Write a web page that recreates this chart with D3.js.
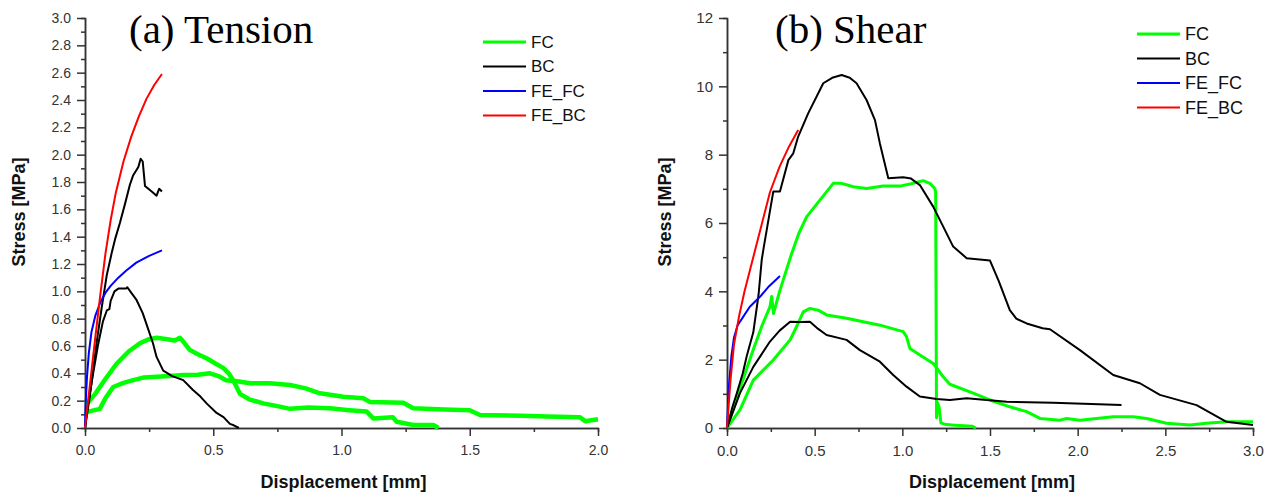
<!DOCTYPE html>
<html>
<head>
<meta charset="utf-8">
<script src="https://cdn.jsdelivr.net/npm/d3@7"></script>
<style>
  body { margin: 0; background: #fff; }
  text { font-family: "Liberation Sans", Arial, sans-serif; }
</style>
</head>
<body>
<div id="chart"></div>
<script>
// ---- data: [displacement mm, stress MPa] ----
var seriesNames = ['FC', 'BC', 'FE_FC', 'FE_BC'];

// (a) tension
var tensionFC_1 = [[0,0.18],[0.013,0.19],[0.04,0.25],[0.08,0.36],[0.123,0.47],[0.17,0.56],[0.214,0.62],[0.25,0.65],[0.28,0.66],[0.32,0.65],[0.35,0.64],[0.37,0.66],[0.38,0.64],[0.409,0.57],[0.44,0.54],[0.474,0.51],[0.51,0.47],[0.539,0.44],[0.56,0.40],[0.578,0.35],[0.604,0.25],[0.64,0.21],[0.695,0.18],[0.75,0.16],[0.80,0.14],[0.87,0.15],[0.955,0.144],[1.03,0.13],[1.098,0.12],[1.124,0.07],[1.20,0.078],[1.215,0.046],[1.28,0.022],[1.358,0.022],[1.378,0]];
var tensionFC_2 = [[0,0.1],[0.013,0.12],[0.058,0.14],[0.08,0.22],[0.11,0.30],[0.15,0.33],[0.188,0.35],[0.23,0.37],[0.28,0.375],[0.33,0.38],[0.383,0.388],[0.44,0.39],[0.487,0.40],[0.52,0.38],[0.55,0.35],[0.60,0.34],[0.643,0.327],[0.72,0.327],[0.80,0.315],[0.86,0.29],[0.916,0.254],[1.007,0.229],[1.085,0.217],[1.111,0.19],[1.241,0.185],[1.28,0.144],[1.40,0.135],[1.50,0.13],[1.54,0.095],[1.70,0.09],[1.80,0.085],[1.93,0.078],[1.95,0.05],[2.0,0.064]];
var tensionBC_1 = [[0,0],[0.02,0.25],[0.045,0.62],[0.065,0.88],[0.085,1.12],[0.104,1.28],[0.117,1.38],[0.136,1.50],[0.156,1.64],[0.175,1.78],[0.188,1.85],[0.208,1.91],[0.217,1.97],[0.225,1.95],[0.234,1.77],[0.26,1.73],[0.279,1.70],[0.289,1.75],[0.30,1.73]];
var tensionBC_2 = [[0,0],[0.01,0.15],[0.03,0.38],[0.05,0.6],[0.07,0.78],[0.085,0.86],[0.095,0.87],[0.10,0.93],[0.115,1.0],[0.13,1.02],[0.16,1.02],[0.165,1.03],[0.18,0.99],[0.20,0.94],[0.225,0.84],[0.247,0.72],[0.265,0.62],[0.279,0.52],[0.305,0.42],[0.34,0.38],[0.383,0.35],[0.42,0.28],[0.45,0.23],[0.474,0.18],[0.513,0.11],[0.54,0.08],[0.565,0.03],[0.58,0.02],[0.60,0]];
var tensionFE_FC = [[0,0],[0.003,0.2],[0.008,0.38],[0.015,0.55],[0.025,0.70],[0.04,0.82],[0.06,0.92],[0.08,0.99],[0.10,1.04],[0.13,1.10],[0.16,1.15],[0.20,1.21],[0.25,1.26],[0.30,1.30]];
var tensionFE_BC = [[0,0],[0.02,0.33],[0.04,0.66],[0.06,0.98],[0.08,1.28],[0.10,1.52],[0.12,1.72],[0.15,1.95],[0.18,2.13],[0.21,2.28],[0.24,2.41],[0.27,2.51],[0.30,2.59]];

// (b) shear
var shearFC_1 = [[0,0],[0.05,0.8],[0.10,1.55],[0.15,2.3],[0.20,3.0],[0.245,3.55],[0.255,3.85],[0.265,3.35],[0.30,4.0],[0.369,5.11],[0.41,5.7],[0.454,6.18],[0.53,6.67],[0.606,7.16],[0.654,7.16],[0.72,7.06],[0.796,7.01],[0.891,7.08],[0.986,7.08],[1.05,7.15],[1.119,7.24],[1.16,7.15],[1.186,7.0],[1.19,6.9],[1.195,0.3],[1.20,0.75],[1.21,0.6],[1.22,0.15],[1.25,0.1],[1.3,0.08],[1.4,0.05],[1.42,0]];
var shearFC_2 = [[0,0],[0.074,0.53],[0.15,1.40],[0.264,1.99],[0.36,2.58],[0.40,3.0],[0.435,3.40],[0.473,3.50],[0.52,3.45],[0.568,3.31],[0.682,3.21],[0.777,3.11],[0.872,3.01],[1.005,2.82],[1.024,2.67],[1.043,2.33],[1.10,2.14],[1.176,1.89],[1.233,1.50],[1.271,1.28],[1.404,1.02],[1.50,0.82],[1.613,0.62],[1.709,0.48],[1.785,0.28],[1.899,0.23],[1.937,0.28],[2.013,0.23],[2.203,0.33],[2.317,0.33],[2.393,0.28],[2.507,0.14],[2.64,0.09],[2.735,0.14],[2.849,0.18],[3.0,0.18]];
var shearBC_1 = [[0,0],[0.03,0.6],[0.055,1.0],[0.09,1.6],[0.112,2.09],[0.15,2.8],[0.18,3.9],[0.198,4.92],[0.21,5.3],[0.24,6.2],[0.264,6.92],[0.302,6.92],[0.35,7.84],[0.378,8.04],[0.406,8.53],[0.463,9.21],[0.549,10.09],[0.60,10.25],[0.654,10.33],[0.70,10.25],[0.739,10.09],[0.796,9.6],[0.844,9.01],[0.872,8.33],[0.92,7.31],[1.005,7.34],[1.05,7.3],[1.10,7.11],[1.176,6.48],[1.214,6.09],[1.29,5.31],[1.367,4.97],[1.50,4.90],[1.55,4.3],[1.613,3.45],[1.65,3.2],[1.709,3.06],[1.80,2.92],[1.842,2.89],[2.013,2.28],[2.203,1.55],[2.355,1.31],[2.469,0.97],[2.678,0.67],[2.849,0.18],[3.0,0.09]];
var shearBC_2 = [[0,0],[0.074,1.02],[0.15,1.79],[0.245,2.53],[0.30,2.85],[0.36,3.11],[0.42,3.10],[0.473,3.11],[0.52,2.9],[0.568,2.72],[0.682,2.58],[0.758,2.28],[0.872,1.94],[0.948,1.55],[1.024,1.21],[1.10,0.92],[1.195,0.85],[1.271,0.82],[1.367,0.87],[1.595,0.77],[1.86,0.74],[2.25,0.67]];
var shearFE_FC = [[0,0],[0.005,0.6],[0.012,1.3],[0.025,2.1],[0.04,2.65],[0.06,3.0],[0.093,3.26],[0.13,3.55],[0.188,3.84],[0.24,4.15],[0.302,4.45]];
var shearFE_BC = [[0,0],[0.02,1.4],[0.04,2.45],[0.07,3.3],[0.10,4.0],[0.13,4.6],[0.16,5.2],[0.20,6.0],[0.245,6.9],[0.30,7.65],[0.35,8.2],[0.406,8.72]];

// ticks
var tensionYTicks = [0,0.2,0.4,0.6,0.8,1.0,1.2,1.4,1.6,1.8,2.0,2.2,2.4,2.6,2.8,3.0];
var tensionYMinor = d3.range(0.1, 3.0, 0.2);
var tensionXTicks = [0,0.5,1.0,1.5,2.0];
var tensionXMinor = [0.25,0.75,1.25,1.75];
var shearYTicks = [0,2,4,6,8,10,12];
var shearYMinor = [1,3,5,7,9,11];
var shearXTicks = [0,0.5,1.0,1.5,2.0,2.5,3.0];
var shearXMinor = [0.25,0.75,1.25,1.75,2.25,2.75];

var color = d3.scaleOrdinal()
  .domain(seriesNames)
  .range(['#00ff00', '#000000', '#0000ff', '#ff0000']);

var svg = d3.select("#chart")
  .append("svg")
    .attr("width", 1283)
    .attr("height", 498);

var draw_panel = function(p) {
  var x = d3.scaleLinear().domain(p.xDomain).range([p.left, p.right]);
  var y = d3.scaleLinear().domain(p.yDomain).range([p.bottom, p.top]);
  var g = svg.append("g");

  // minor ticks first, then majors with labels
  g.append("g")
    .attr("transform", "translate(0," + p.bottom + ")")
    .call(d3.axisBottom(x).tickValues(p.xMinor).tickSize(4).tickFormat(""));
  g.append("g")
    .attr("transform", "translate(" + p.left + ",0)")
    .call(d3.axisLeft(y).tickValues(p.yMinor).tickSize(4).tickFormat(""));
  g.append("g")
    .attr("class", "xaxis")
    .attr("transform", "translate(0," + p.bottom + ")")
    .call(d3.axisBottom(x).tickValues(p.xTicks).tickSize(8).tickSizeOuter(0).tickPadding(9).tickFormat(d3.format(".1f")));
  g.append("g")
    .attr("class", "yaxis")
    .attr("transform", "translate(" + p.left + ",0)")
    .call(d3.axisLeft(y).tickValues(p.yTicks).tickSize(8).tickSizeOuter(0).tickPadding(6).tickFormat(d3.format(p.yFormat)));
  g.selectAll(".domain, .tick line").attr("stroke", "#333").attr("stroke-width", 1.5);
  g.selectAll(".tick text").attr("fill", "#333").style("font-size", p.tickFont + "px")
    .style("font-family", "'Liberation Sans', Arial, sans-serif");

  // curves
  var line = d3.line()
    .x(function(d) { return x(d[0]); })
    .y(function(d) { return y(d[1]); });
  g.selectAll(".curve")
    .data(p.series)
    .enter()
    .append("path")
      .attr("fill", "none")
      .attr("stroke", function(d) { return color(d.id); })
      .attr("stroke-width", function(d) { return d.id == 'FC' ? p.greenWidth : 2; })
      .attr("stroke-linejoin", "round")
      .attr("d", function(d) { return line(d.values); });

  // axis labels
  g.append("text")
    .attr("x", (p.left + p.right) / 2 + 2)
    .attr("y", 488)
    .attr("text-anchor", "middle")
    .style("font-weight", "bold")
    .style("font-size", "18px")
    .attr("fill", "#111")
    .text("Displacement [mm]");
  g.append("text")
    .attr("transform", "translate(" + p.ylabelX + ",212) rotate(-90)")
    .attr("text-anchor", "middle")
    .style("font-weight", "bold")
    .style("font-size", "18px")
    .attr("fill", "#111")
    .text("Stress [MPa]");

  // panel title
  g.append("text")
    .attr("x", p.titleX)
    .attr("y", 43)
    .style("font-family", "'Liberation Serif', 'Times New Roman', serif")
    .style("font-size", "41px")
    .attr("fill", "#000")
    .text(p.title);

  // legend
  var leg = g.selectAll(".leg")
    .data(seriesNames)
    .enter()
    .append("g")
      .attr("transform", function(d, i) { return "translate(" + p.legX + "," + (p.legY + i * 24.5) + ")"; });
  leg.append("line")
    .attr("x1", 0).attr("x2", 43)
    .attr("stroke", function(d) { return color(d); })
    .attr("stroke-width", function(d) { return d == 'FC' ? 3 : 2; });
  leg.append("text")
    .attr("x", 48)
    .attr("dy", "0.35em")
    .style("font-size", p.legFont + "px")
    .attr("fill", "#111")
    .text(function(d) { return d; });
};

draw_panel({
  title: "(a) Tension", titleX: 129,
  left: 85, right: 598, top: 18, bottom: 428,
  xDomain: [0, 2.0], yDomain: [0, 3.0],
  xTicks: tensionXTicks, xMinor: tensionXMinor,
  yTicks: tensionYTicks, yMinor: tensionYMinor, yFormat: ".1f",
  tickFont: 14, greenWidth: 4.5, ylabelX: 25,
  legX: 483, legY: 42, legFont: 17,
  series: [
    {id: 'FC', values: tensionFC_1}, {id: 'FC', values: tensionFC_2},
    {id: 'BC', values: tensionBC_1}, {id: 'BC', values: tensionBC_2},
    {id: 'FE_FC', values: tensionFE_FC}, {id: 'FE_BC', values: tensionFE_BC}
  ]
});

draw_panel({
  title: "(b) Shear", titleX: 775,
  left: 727, right: 1253, top: 18, bottom: 428,
  xDomain: [0, 3.0], yDomain: [0, 12],
  xTicks: shearXTicks, xMinor: shearXMinor,
  yTicks: shearYTicks, yMinor: shearYMinor, yFormat: "d",
  tickFont: 15, greenWidth: 3, ylabelX: 671,
  legX: 1137, legY: 34, legFont: 18,
  series: [
    {id: 'FC', values: shearFC_1}, {id: 'FC', values: shearFC_2},
    {id: 'BC', values: shearBC_1}, {id: 'BC', values: shearBC_2},
    {id: 'FE_FC', values: shearFE_FC}, {id: 'FE_BC', values: shearFE_BC}
  ]
});
</script>
</body>
</html>
